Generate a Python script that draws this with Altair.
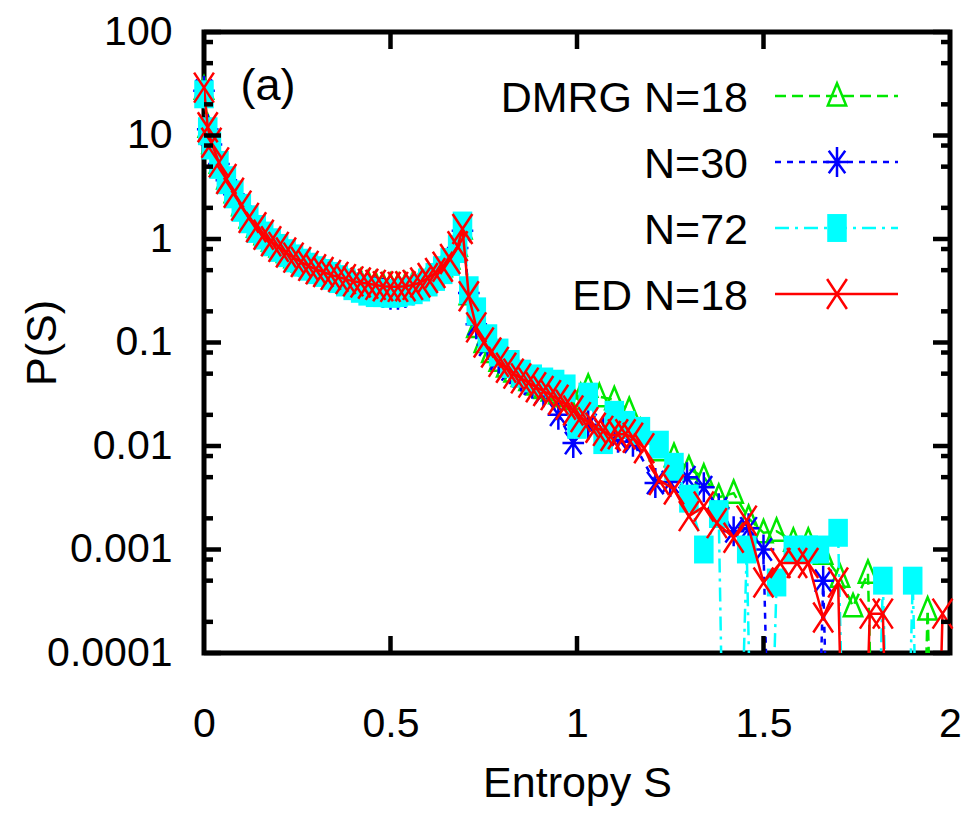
import altair as alt
import pandas as pd

# ---------------- data ----------------
# common entropy grid for the smooth part (0 .. ln2)
S_LOW = [0.0, 0.01, 0.02, 0.04, 0.06, 0.08, 0.10, 0.12, 0.14, 0.16, 0.18, 0.20,
         0.22, 0.24, 0.26, 0.28, 0.30, 0.32, 0.34, 0.36, 0.38, 0.40, 0.42, 0.44,
         0.46, 0.48, 0.50, 0.52, 0.54, 0.56, 0.58, 0.60, 0.62, 0.64, 0.66, 0.68, 0.693]

DMRG18_LOW = [28, 12, 8.4, 5.4, 3.8, 2.8, 2.1, 1.6, 1.3, 1.1, 0.95, 0.84, 0.74, 0.66,
              0.60, 0.55, 0.51, 0.48, 0.45, 0.43, 0.41, 0.39, 0.38, 0.37, 0.36, 0.35,
              0.345, 0.345, 0.35, 0.36, 0.38, 0.42, 0.47, 0.54, 0.64, 0.85, 1.25]
N30_LOW = [27, 11.5, 8.2, 5.3, 3.7, 2.7, 2.05, 1.58, 1.28, 1.07, 0.93, 0.82, 0.72, 0.64,
           0.58, 0.53, 0.49, 0.46, 0.43, 0.41, 0.39, 0.37, 0.35, 0.33, 0.31, 0.30,
           0.29, 0.29, 0.30, 0.32, 0.35, 0.39, 0.45, 0.52, 0.62, 0.82, 1.2]
N72_LOW = [25, 11, 8.0, 5.2, 3.7, 2.7, 2.0, 1.55, 1.25, 1.08, 0.93, 0.82, 0.73, 0.65,
           0.59, 0.54, 0.50, 0.47, 0.44, 0.41, 0.38, 0.35, 0.33, 0.31, 0.30, 0.30,
           0.295, 0.30, 0.31, 0.32, 0.34, 0.38, 0.43, 0.50, 0.60, 0.80, 1.35]
ED18_LOW = [29, 12, 8.5, 5.5, 3.8, 2.8, 2.1, 1.6, 1.3, 1.1, 0.95, 0.84, 0.74, 0.66,
            0.60, 0.55, 0.51, 0.48, 0.45, 0.43, 0.41, 0.39, 0.38, 0.37, 0.36, 0.35,
            0.345, 0.345, 0.35, 0.36, 0.38, 0.42, 0.47, 0.54, 0.64, 0.85, 1.25]

# tails above ln2 (0 = empty bin)
DMRG18_TAIL_S = [0.71, 0.73, 0.75, 0.77, 0.79, 0.81, 0.83, 0.85, 0.87, 0.89, 0.91, 0.93,
                 0.95, 0.97, 0.99, 1.01, 1.03, 1.06, 1.10, 1.14, 1.17, 1.22, 1.26, 1.30,
                 1.34, 1.38, 1.42, 1.46, 1.50, 1.535, 1.58, 1.62, 1.66, 1.705, 1.74,
                 1.78, 1.82, 1.86, 1.90, 1.94, 1.98]
DMRG18_TAIL_P = [0.29, 0.14, 0.1, 0.08, 0.066, 0.058, 0.052, 0.047, 0.043, 0.039, 0.036,
                 0.034, 0.032, 0.03, 0.028, 0.03, 0.037, 0.03, 0.028, 0.022, 0.0137,
                 0.009, 0.0079, 0.006, 0.005, 0.0032, 0.0035, 0.002, 0.00145, 0.0015,
                 0.0012, 0.0012, 0.0009, 0.00054, 0.00028, 0.00059, 0, 0, 0, 0.00026, 0]

N30_TAIL_S = [0.71, 0.73, 0.76, 0.79, 0.82, 0.85, 0.88, 0.91, 0.95, 0.99, 1.03, 1.07,
              1.11, 1.15, 1.21, 1.25, 1.295, 1.34, 1.38, 1.42, 1.46, 1.50, 1.54, 1.58,
              1.62, 1.66, 1.70]
N30_TAIL_P = [0.3, 0.15, 0.095, 0.07, 0.055, 0.047, 0.04, 0.033, 0.02, 0.0107, 0.016,
              0.014, 0.012, 0.011, 0.0044, 0.0045, 0.005, 0.004, 0.0025, 0.0015, 0.0016,
              0.001, 0, 0, 0, 0.0005, 0]

N72_TAIL_S = [0.71, 0.73, 0.76, 0.79, 0.82, 0.85, 0.88, 0.91, 0.94, 0.97, 1.00, 1.03,
              1.07, 1.10, 1.13, 1.17, 1.22, 1.26, 1.30, 1.34, 1.38, 1.41, 1.455, 1.49,
              1.535, 1.58, 1.62, 1.65, 1.70, 1.74, 1.78, 1.82, 1.86, 1.90, 1.94]
N72_TAIL_P = [0.32, 0.2, 0.11, 0.08, 0.062, 0.05, 0.045, 0.042, 0.04, 0.036, 0.016, 0.03,
              0.0114, 0.02, 0.016, 0.014, 0.0103, 0.0063, 0.0031, 0.001, 0.0022, 0,
              0.001, 0, 0.00048, 0.001, 0.001, 0.001, 0.00145, 0, 0, 0.0005, 0, 0.0005, 0]

ED18_TAIL_S = [0.71, 0.73, 0.75, 0.77, 0.79, 0.81, 0.83, 0.85, 0.87, 0.89, 0.91, 0.93,
               0.95, 0.97, 0.99, 1.01, 1.03, 1.05, 1.07, 1.09, 1.11, 1.13, 1.15, 1.18,
               1.22, 1.26, 1.30, 1.34, 1.375, 1.42, 1.455, 1.50, 1.545, 1.59, 1.62,
               1.66, 1.70, 1.74, 1.785, 1.82, 1.86, 1.90, 1.94, 1.98]
ED18_TAIL_P = [0.28, 0.14, 0.10, 0.08, 0.065, 0.057, 0.05, 0.045, 0.041, 0.037, 0.034,
               0.031, 0.028, 0.025, 0.022, 0.019, 0.017, 0.015, 0.014, 0.0125, 0.013,
               0.013, 0.012, 0.0095, 0.0047, 0.0038, 0.0021, 0.0026, 0.0018, 0.0013,
               0.0019, 0.00048, 0.00074, 0.00074, 0.00074, 0.00022, 0.00048, 0, 0.00024,
               0.00024, 0, 0, 0, 0.00024]

LABELS = ["DMRG N=18", "N=30", "N=72", "ED N=18"]
X_TICKS = [0, 0.5, 1, 1.5, 2]
X_INNER_TICKS = [0.5, 1, 1.5]
Y_TICKS = [0.0001, 0.001, 0.01, 0.1, 1, 10, 100]
Y_MINOR = [0.0002, 0.0005, 0.0008, 0.002, 0.005, 0.008, 0.02, 0.05, 0.08,
           0.2, 0.5, 0.8, 2, 5, 8, 20, 50, 80]

# ---------------- styling ----------------
FONT = "Liberation Sans"
W, H = 746, 621
FLOOR = 1e-9  # empty bins drop off the bottom of the log axis, as in gnuplot

GREEN, BLUE, CYAN, RED = "#00e800", "#0000ff", "#00ffff", "#ff0000"
TRI = "M0,-1L0.72,0.75L-0.72,0.75Z"
STAR = "M0,-1V1M-0.72,0H0.72M-0.55,-0.75L0.55,0.75M-0.55,0.75L0.55,-0.75"
RECT = "M-0.7,-1H0.7V1H-0.7Z"
CROSS = "M-0.66,-1L0.66,1M-0.66,1L0.66,-1"

STYLES = [
    dict(color=GREEN, dash=[11, 6], shape=TRI, filled=False, size=650, sw=2.5),
    dict(color=BLUE, dash=[6, 6], shape=STAR, filled=False, size=900, sw=2.5),
    dict(color=CYAN, dash=[14, 6, 3, 6], shape=RECT, filled=True, size=780, sw=1),
    dict(color=RED, dash=None, shape=CROSS, filled=False, size=900, sw=2.5),
]
SERIES = [
    (S_LOW, DMRG18_LOW, DMRG18_TAIL_S, DMRG18_TAIL_P),
    (S_LOW, N30_LOW, N30_TAIL_S, N30_TAIL_P),
    (S_LOW, N72_LOW, N72_TAIL_S, N72_TAIL_P),
    (S_LOW, ED18_LOW, ED18_TAIL_S, ED18_TAIL_P),
]
LEGEND_ROW_Y = [64, 130, 196, 262]

xscale = alt.Scale(domain=[0, 2], nice=False, zero=False)
yscale = alt.Scale(type="log", domain=[1e-4, 100], nice=False)
xaxis = alt.Axis(values=X_TICKS, format="~g", title="Entropy S", ticks=False, domain=False,
                 grid=False, labelPadding=83, labelBaseline="alphabetic", labelFlush=False,
                 labelOverlap=False, titleX=W / 2, titleY=143, titleBaseline="alphabetic",
                 titleAlign="center")
yaxis = alt.Axis(values=Y_TICKS, format="~g", title="P(S)", ticks=False, domain=False,
                 grid=False, labelPadding=32, labelFlush=False, labelOverlap=False,
                 labelBaseline="middle", titleX=-149, titleY=H / 2, titleAngle=270,
                 titleBaseline="alphabetic", titleAlign="center")


def make_df(s_low, p_low, s_tail, p_tail):
    S = list(s_low) + list(s_tail)
    P = list(p_low) + list(p_tail)
    return pd.DataFrame({"S": S, "P": [p if p > 0 else FLOOR for p in P],
                         "empty": [p <= 0 for p in P]})


layers = []
for (sl, pl, st, pt), st_ in zip(SERIES, STYLES):
    df = make_df(sl, pl, st, pt)
    line_kw = dict(color=st_["color"], strokeWidth=2.5, clip=True)
    if st_["dash"]:
        line_kw["strokeDash"] = st_["dash"]
    layers.append(alt.Chart(df).mark_line(**line_kw).encode(
        x=alt.X("S:Q", scale=xscale, axis=xaxis),
        y=alt.Y("P:Q", scale=yscale, axis=yaxis)))
    pdf = df[~df["empty"]]
    layers.append(alt.Chart(pdf).mark_point(
        shape=st_["shape"], filled=st_["filled"], color=st_["color"], size=st_["size"],
        strokeWidth=st_["sw"], opacity=1).encode(
        x=alt.X("S:Q", scale=xscale, axis=xaxis),
        y=alt.Y("P:Q", scale=yscale, axis=yaxis)))

# inward ticks on all four sides (gnuplot style)
ymaj = pd.DataFrame({"P": Y_TICKS})
ymin = pd.DataFrame({"P": Y_MINOR})
xt = pd.DataFrame({"S": X_INNER_TICKS})
for d, ln in ((ymaj, 17), (ymin, 9)):
    layers.append(alt.Chart(d).mark_rule(color="black", strokeWidth=4.5).encode(
        y=alt.Y("P:Q", scale=yscale, axis=yaxis), x=alt.value(0), x2=alt.value(ln)))
    layers.append(alt.Chart(d).mark_rule(color="black", strokeWidth=4.5).encode(
        y=alt.Y("P:Q", scale=yscale, axis=yaxis), x=alt.value(W - ln), x2=alt.value(W)))
layers.append(alt.Chart(xt).mark_rule(color="black", strokeWidth=4.5).encode(
    x=alt.X("S:Q", scale=xscale, axis=xaxis), y=alt.value(H - 17), y2=alt.value(H)))
layers.append(alt.Chart(xt).mark_rule(color="black", strokeWidth=4.5).encode(
    x=alt.X("S:Q", scale=xscale, axis=xaxis), y=alt.value(0), y2=alt.value(17)))

# key (top right, labels left of samples)
for lab, st_, ry in zip(LABELS, STYLES, LEGEND_ROW_Y):
    ld = pd.DataFrame({"label": [lab]})
    layers.append(alt.Chart(ld).mark_text(
        align="right", baseline="alphabetic", font=FONT, fontSize=43, color="black").encode(
        text="label:N", x=alt.value(544), y=alt.value(ry + 16)))
    rule_kw = dict(color=st_["color"], strokeWidth=2.5)
    if st_["dash"]:
        rule_kw["strokeDash"] = st_["dash"]
    layers.append(alt.Chart(ld).mark_rule(**rule_kw).encode(
        x=alt.value(571), x2=alt.value(694), y=alt.value(ry)))
    layers.append(alt.Chart(ld).mark_point(
        shape=st_["shape"], filled=st_["filled"], color=st_["color"], size=st_["size"],
        strokeWidth=st_["sw"], opacity=1).encode(x=alt.value(633), y=alt.value(ry)))

layers.append(alt.Chart(pd.DataFrame({"t": ["(a)"]})).mark_text(
    align="center", baseline="alphabetic", font=FONT, fontSize=45, color="black").encode(
    text="t:N", x=alt.value(64), y=alt.value(68)))

chart = alt.layer(*layers).properties(
    width=W, height=H,
    autosize=alt.AutoSizeParams(type="none"),
    padding={"left": 204, "top": 32, "right": 22, "bottom": 166},
).configure_view(stroke="black", strokeWidth=5).configure_axis(
    labelFont=FONT, titleFont=FONT, labelFontSize=41, titleFontSize=43,
    labelColor="black", titleColor="black", titleFontWeight="normal",
)

chart.save("out.html", embed_options={"renderer": "svg", "actions": False})
